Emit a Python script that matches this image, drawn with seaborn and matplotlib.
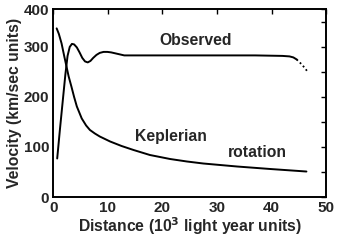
import matplotlib
matplotlib.use("Agg")
import matplotlib.pyplot as plt
import seaborn as sns
import pandas as pd

# Observed rotation curve (solid part)
obs_x = [0.7, 1.2, 1.7, 2.2, 2.6, 3.0, 3.4, 3.8, 4.3, 4.8, 5.3, 5.8, 6.3, 6.8, 7.3, 7.9,
         8.5, 9.2, 9.9, 10.6, 11.4, 12.2, 13.0, 20.0, 30.0, 37.0, 42.0, 43.3, 44.0, 44.6]
obs_v = [77, 135, 190, 245, 282, 300, 306, 305, 299, 289, 278, 271, 269, 272, 278, 284,
         288, 290, 290, 289, 287, 285, 283, 283, 283, 283, 282, 281, 279, 275]
# Observed rotation curve (dotted tail)
tail_x = [44.6, 45.1, 45.6, 46.1, 46.5]
tail_v = [275, 270, 264, 258, 252]
# Keplerian rotation curve
kep_x = [0.6, 1.0, 1.5, 2.0, 2.4, 2.8, 3.3, 3.8, 4.3, 5.2, 6.0, 6.7, 7.6, 8.5, 10.4, 12.5,
         14.7, 17.7, 21.4, 24.5, 27.5, 33.7, 39.8, 46.4]
kep_v = [337, 326, 307, 281, 261, 241, 221, 200, 181, 157, 143, 134, 127, 121, 111, 102,
         94, 84, 76, 71, 67, 61, 56, 51]

x_ticks = [0, 10, 20, 30, 40, 50]
y_ticks = [0, 100, 200, 300, 375]
y_tick_labels = ["0", "100", "200", "300", "400"]
y_minor = [50, 150, 250, 350]

sns.set_style("white")
plt.rcParams["font.family"] = ["Liberation Sans", "DejaVu Sans"]
plt.rcParams["font.weight"] = "bold"

fig = plt.figure(figsize=(3.4, 2.4), dpi=100)
ax = fig.add_axes([0.157, 0.179, 0.802, 0.782])

obs = pd.DataFrame({"x": obs_x, "v": obs_v})
tail = pd.DataFrame({"x": tail_x, "v": tail_v})
kep = pd.DataFrame({"x": kep_x, "v": kep_v})

sns.lineplot(data=obs, x="x", y="v", ax=ax, color="black", lw=1.4, sort=False)
sns.lineplot(data=tail, x="x", y="v", ax=ax, color="black", lw=1.3, ls=(0, (1, 1.5)), sort=False)
sns.lineplot(data=kep, x="x", y="v", ax=ax, color="black", lw=1.4, sort=False)

ax.set_xlim(0, 50)
ax.set_ylim(0, 375)
ax.set_xticks(x_ticks)
ax.set_yticks(y_ticks)
ax.set_yticklabels(y_tick_labels)
ax.set_yticks(y_minor, minor=True)
ax.tick_params(axis="both", which="both", direction="in", length=3.5, width=1.0,
               top=True, right=True, labelsize=11, color="black")
ax.tick_params(axis="y", pad=3)
ax.tick_params(axis="x", pad=3)
for lab in ax.get_xticklabels() + ax.get_yticklabels():
    lab.set_fontweight("bold")

for s in ax.spines.values():
    s.set_linewidth(1.4)
    s.set_color("black")

ax.set_xlabel("Distance (10$^{\\mathbf{3}}$ light year units)", fontsize=11.3, fontweight="bold", labelpad=0)
ax.set_ylabel("Velocity (km/sec units)", fontsize=11.3, fontweight="bold", labelpad=1)

ax.text(26.0, 312, "Observed", ha="center", va="center", fontsize=11.3, fontweight="bold")
ax.text(21.5, 120, "Keplerian", ha="center", va="center", fontsize=11.3, fontweight="bold")
ax.text(37.4, 88, "rotation", ha="center", va="center", fontsize=11.3, fontweight="bold")

fig.savefig("out.png", dpi=100)
